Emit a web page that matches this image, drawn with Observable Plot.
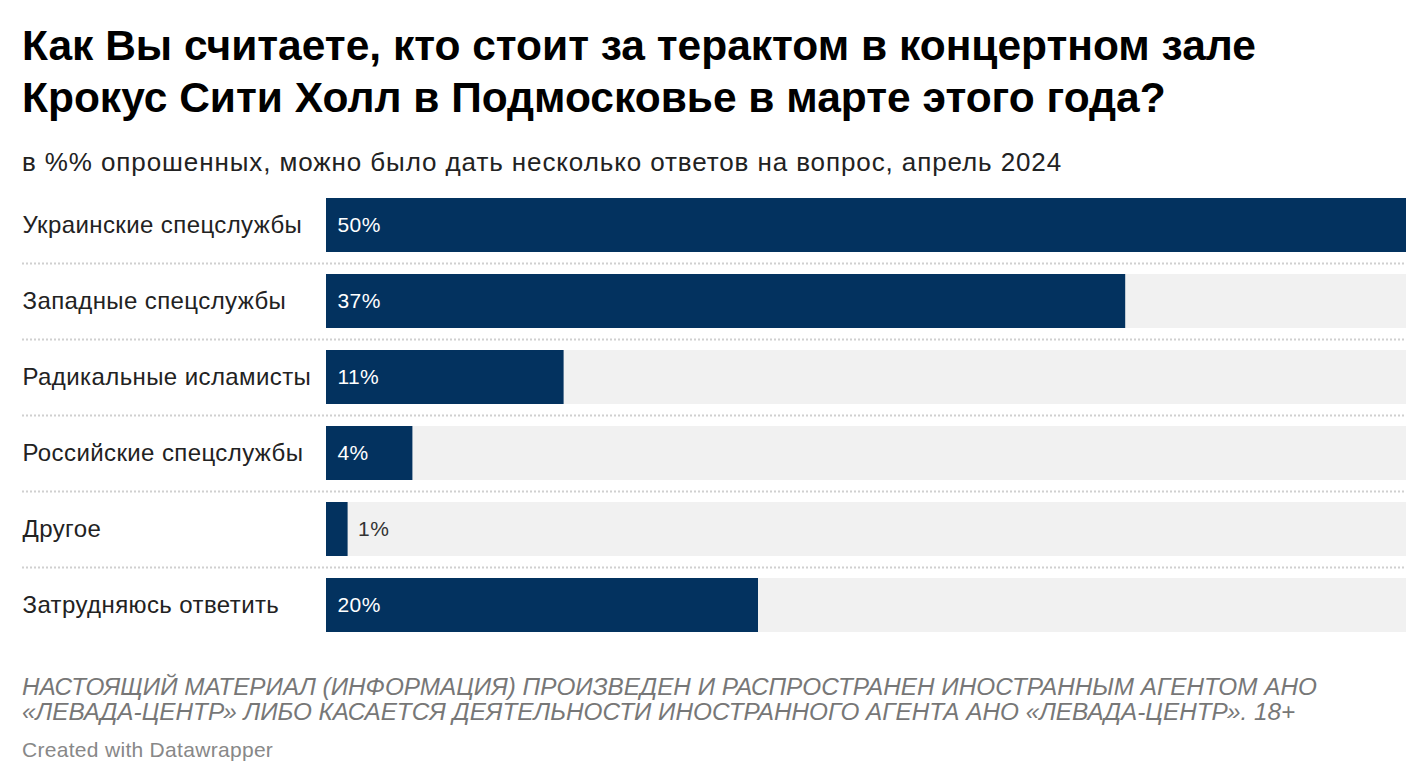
<!DOCTYPE html>
<html>
<head>
<meta charset="utf-8">
<script src="https://cdn.jsdelivr.net/npm/d3@7"></script>
<script src="https://cdn.jsdelivr.net/npm/@observablehq/plot@0.6"></script>
<style>
  html, body { margin: 0; padding: 0; background: #fff; }
  body { width: 1428px; height: 784px; position: relative; overflow: hidden; font-family: "Liberation Sans", Arial, sans-serif; }
  .title { position: absolute; left: 22px; top: 20px; font-size: 42.5px; font-weight: 700; line-height: 52px; color: #000; white-space: nowrap; }
  .subtitle { position: absolute; left: 22px; top: 147px; font-size: 26px; line-height: 30px; letter-spacing: 0.9px; color: #222; white-space: nowrap; }
  #chart { position: absolute; left: 0; top: 180px; }
  #chart text { letter-spacing: 0.4px; }
  .notes { position: absolute; left: 22px; top: 674px; font-style: italic; font-size: 24.3px; line-height: 25px; color: #777; white-space: nowrap; }
  .credit { position: absolute; left: 22px; top: 738px; font-size: 21px; line-height: 24px; letter-spacing: 0.3px; color: #888; }
</style>
</head>
<body>
<div class="title">Как Вы считаете, кто стоит за терактом в концертном зале<br>Крокус Сити Холл в Подмосковье в марте этого года?</div>
<div class="subtitle">в %% опрошенных, можно было дать несколько ответов на вопрос, апрель 2024</div>
<div id="chart"></div>
<div class="notes">НАСТОЯЩИЙ МАТЕРИАЛ (ИНФОРМАЦИЯ) ПРОИЗВЕДЕН И РАСПРОСТРАНЕН ИНОСТРАННЫМ АГЕНТОМ АНО<br>«ЛЕВАДА-ЦЕНТР» ЛИБО КАСАЕТСЯ ДЕЯТЕЛЬНОСТИ ИНОСТРАННОГО АГЕНТА АНО «ЛЕВАДА-ЦЕНТР». 18+</div>
<div class="credit">Created with Datawrapper</div>
<script>
// Answers and shares of respondents, %
const answers = [
  "Украинские спецслужбы",
  "Западные спецслужбы",
  "Радикальные исламисты",
  "Российские спецслужбы",
  "Другое",
  "Затрудняюсь ответить"
];
const shares = [50, 37, 11, 4, 1, 20];
const scaleMax = 50;

const rows = answers.map((answer, i) => ({answer, share: shares[i]}));

const navy = "#03325f";
const svgTop = 180;
const step = 76;
const marginTop = 187 - svgTop;
const height = marginTop + step * answers.length + 10;
const insideMin = 3; // shares below this get their label outside the bar

const chart = Plot.plot({
  width: 1428,
  height,
  marginLeft: 22,
  marginRight: 22,
  marginTop,
  marginBottom: 10,
  style: {fontFamily: "Liberation Sans, Arial, sans-serif", background: "#fff"},
  x: {domain: [0, scaleMax], range: [326, 1406], axis: null},
  y: {domain: answers, type: "band", paddingInner: 22 / step, paddingOuter: 11 / step, axis: null},
  marks: [
    // dotted separators between rows
    Plot.ruleY(answers.slice(0, -1), {y: d => d, dy: step / 2, stroke: "#d0d0d0", strokeWidth: 2, strokeDasharray: "2,2"}),
    // full-scale track behind each bar
    Plot.barX(rows, {y: "answer", x1: 0, x2: scaleMax, fill: "#f1f1f1"}),
    Plot.barX(rows, {y: "answer", x: "share", fill: navy}),
    // category labels on the left
    Plot.text(rows, {y: "answer", text: "answer", frameAnchor: "left", textAnchor: "start", fontSize: 24, fill: "#222"}),
    // value labels
    Plot.text(rows.filter(d => d.share >= insideMin), {y: "answer", x: 0, text: d => d.share + "%", textAnchor: "start", dx: 11, fill: "#fff", fontSize: 21}),
    Plot.text(rows.filter(d => d.share < insideMin), {y: "answer", x: "share", text: d => d.share + "%", textAnchor: "start", dx: 10, fill: "#333", fontSize: 21})
  ]
});
document.getElementById("chart").appendChild(chart);
</script>
</body>
</html>
